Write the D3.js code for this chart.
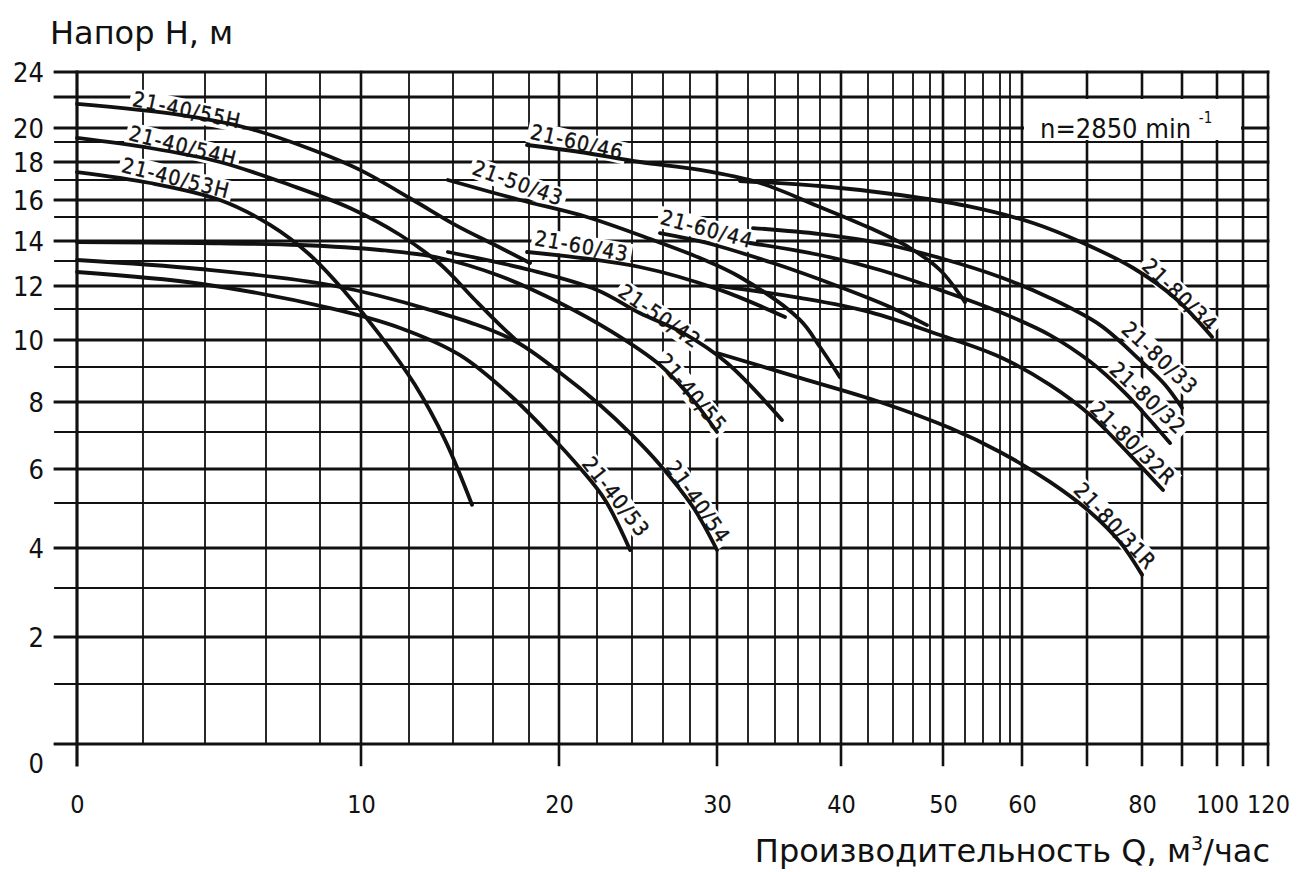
<!DOCTYPE html>
<html>
<head>
<meta charset="utf-8">
<script src="https://cdn.jsdelivr.net/npm/d3@7/dist/d3.min.js"></script>
<style>
  body { margin: 0; background: #fff; }
  svg { display: block; }
</style>
</head>
<body>
<svg id="chart" width="1299" height="872"></svg>
<script>
"use strict";

// flow Q (m3/h) and head H (m) grid values of the sheet
var qGrid = [0, 2, 4, 6, 8, 10, 12, 14, 16, 18, 20, 22, 24, 26, 28, 30, 32, 34, 36, 38,
    40, 42, 44, 46, 48, 50, 52, 54, 56, 58, 60, 70, 80, 90, 100, 110, 120];
var hGrid = [0, 1, 2, 3, 4, 5, 6, 7, 8, 9, 10, 11, 12, 13, 14, 15, 16, 17, 18, 19, 20, 22, 24];
var qTicks = [0, 10, 20, 30, 40, 50, 60, 80, 100, 120];
var hTicks = [0, 2, 4, 6, 8, 10, 12, 14, 16, 18, 20, 24];

// the printed scale is hand drawn and uneven, so it is a piecewise scale
var qGridPx = [77, 143, 205, 266, 320, 361, 409, 453, 493, 529, 559, 597, 632, 663, 690, 717,
    748, 775, 798, 820, 841, 868, 893, 913, 930, 943, 965, 983, 1000, 1010, 1022,
    1087, 1142, 1182, 1217, 1243, 1268];
var hGridPx = [744, 684, 637, 588, 548, 503, 469, 432, 402, 367, 340, 309, 286, 261, 241,
    217, 200, 180, 162, 142, 128, 97, 72];

// pump curves, [Q, H]
var p4055H = [[0, 21.55], [3.19, 20.84], [5.38, 20.0], [7.74, 18.6], [9.95, 17.56],
    [12.18, 16.0], [14.2, 14.63], [16.11, 13.8], [18.07, 12.92]];
var p4054H = [[0, 19.29], [2.23, 18.7], [4.49, 18.0], [6.89, 16.75], [9.46, 15.53],
    [11.63, 14.25], [13.41, 12.88], [15.1, 11.39], [16.39, 10.48], [17.39, 9.93]];
var p4053H = [[0, 17.44], [2.23, 16.85], [4.49, 16.0], [6.15, 14.67], [7.63, 13.3],
    [9.22, 11.74], [10.79, 10.16], [12.27, 8.49], [13.64, 6.78], [14.95, 4.96]];
var p4055 = [[0, 13.95], [3.84, 13.9], [7.26, 13.8], [10.79, 13.55], [13.41, 13.15],
    [16.39, 12.4], [20.05, 11.26], [22.86, 10.26], [25.81, 9.07], [28.22, 8.06], [30.0, 7.0]];
var p4054 = [[0, 13.05], [3.84, 12.68], [8.49, 12.04], [12.95, 10.97], [17.11, 10.0],
    [20.21, 8.77], [22.17, 7.9], [23.89, 6.97], [25.81, 6.11], [28.22, 4.91], [30.0, 3.95]];
var p4053 = [[0, 12.56], [3.84, 12.09], [8.49, 11.04], [11.63, 10.39], [14.35, 9.44],
    [16.94, 8.2], [19.4, 6.92], [21.1, 6.03], [22.46, 5.09], [23.89, 3.95]];
var p5043 = [[13.77, 17.0], [17.5, 16.0], [21.47, 15.0], [25.35, 14.04], [28.74, 13.15],
    [31.48, 12.36], [36.18, 10.65], [38.0, 9.74], [39.9, 8.71]];
var p5042 = [[13.77, 13.45], [18.07, 12.64], [22.0, 11.83], [24.5, 10.87], [27.48, 10.23],
    [30.65, 9.15], [34.6, 7.4]];
var p6046 = [[17.89, 18.85], [21.1, 18.5], [24.52, 18.0], [28.74, 17.56], [32.89, 16.85],
    [38.0, 15.59], [42.16, 14.54], [45.7, 13.65], [49.54, 12.64], [52.0, 11.3]];
var p6044 = [[25.8, 14.33], [29.26, 13.9], [33.85, 12.92], [39.9, 11.96], [43.76, 11.09],
    [47.65, 10.48]];
var p6043 = [[17.89, 13.45], [24.5, 12.76], [30.19, 11.83], [34.87, 10.74]];
var p8034 = [[31.48, 16.95], [38.0, 16.7], [44.7, 16.25], [52.2, 15.65], [61.7, 14.75],
    [69.4, 13.9], [78.4, 12.72], [88.25, 11.48], [98.6, 10.1]];
var p8033 = [[32.37, 14.54], [38.0, 14.29], [42.96, 13.9], [49.54, 13.15], [56.0, 12.36],
    [64.3, 11.48], [72.4, 10.48], [79.6, 9.26], [85.75, 8.49], [90.0, 7.8]];
var p8032 = [[32.15, 13.9], [38.0, 13.3], [42.96, 12.64], [49.54, 11.83], [56.0, 10.9],
    [64.3, 10.16], [70.55, 9.2], [76.9, 8.26], [82.0, 7.4], [87.0, 6.7]];
var p8032R = [[30.19, 12.0], [36.18, 11.48], [42.16, 10.9], [49.54, 10.16], [56.0, 9.37],
    [64.3, 8.49], [70.55, 7.57], [77.8, 6.38], [85.25, 5.38]];
var p8031R = [[30.0, 9.52], [36.18, 8.69], [42.96, 8.0], [50.64, 7.13], [56.0, 6.46],
    [64.3, 5.62], [70.55, 4.8], [76.0, 4.13], [80.0, 3.33]];

var pumps = [
    { name: "21-40/55H", pts: p4055H }, { name: "21-40/54H", pts: p4054H },
    { name: "21-40/53H", pts: p4053H }, { name: "21-40/55", pts: p4055 },
    { name: "21-40/54", pts: p4054 }, { name: "21-40/53", pts: p4053 },
    { name: "21-50/43", pts: p5043 }, { name: "21-50/42", pts: p5042 },
    { name: "21-60/46", pts: p6046 }, { name: "21-60/44", pts: p6044 },
    { name: "21-60/43", pts: p6043 }, { name: "21-80/34", pts: p8034 },
    { name: "21-80/33", pts: p8033 }, { name: "21-80/32", pts: p8032 },
    { name: "21-80/32R", pts: p8032R }, { name: "21-80/31R", pts: p8031R }
];

// where each curve name is written: centre in [Q, H] and slope of the text
var tags = {
    "21-40/55H": [3.42, 21.16, 12], "21-40/54H": [3.29, 18.8, 14], "21-40/53H": [3.06, 17.11, 14],
    "21-60/46": [20.95, 19.0, 13], "21-50/43": [17.39, 16.85, 20], "21-60/44": [29.26, 14.5, 15],
    "21-60/43": [21.2, 13.75, 10], "21-50/42": [25.8, 10.77, 35], "21-40/55": [28.15, 8.26, 50],
    "21-40/54": [28.6, 5.03, 55], "21-40/53": [23.09, 5.18, 52], "21-80/34": [89.5, 11.6, 44],
    "21-80/33": [84.5, 9.33, 43], "21-80/32": [81.5, 8.11, 43], "21-80/32R": [78.4, 6.7, 44],
    "21-80/31R": [75.1, 4.49, 47]
};

var ink = "#111",
    techFont = "'DejaVu Sans Condensed', 'DejaVu Sans', sans-serif",
    plainFont = "'DejaVu Sans', Verdana, sans-serif";

var svg = d3.select("#chart"),
    x = d3.scaleLinear().domain(qGrid).range(qGridPx),
    y = d3.scaleLinear().domain(hGrid).range(hGridPx),
    left = 55,
    qMax = 120,
    hMax = 24;

svg.append("rect").attr("width", 1299).attr("height", 872).attr("fill", "#fff");

// grid
var grid = svg.append("g").attr("stroke", ink).attr("stroke-linecap", "square");

grid.selectAll("line.h")
    .data(hGrid)
    .join("line")
    .attr("x1", left)
    .attr("x2", x(qMax))
    .attr("y1", function (d) { return y(d); })
    .attr("y2", function (d) { return y(d); })
    .attr("stroke-width", function (d) { return d % 2 === 0 ? 2.8 : 1.8; });

grid.selectAll("line.v")
    .data(qGrid)
    .join("line")
    .attr("x1", function (d) { return x(d); })
    .attr("x2", function (d) { return x(d); })
    .attr("y1", y(hMax))
    .attr("y2", function (d) { return d % 10 === 0 ? y(0) + 21 : y(0); })
    .attr("stroke-width", function (d) {
        if (d === 0) { return 3.2; }
        return d % 10 === 0 ? 2.6 : 1.8;
    });

// speed box
svg.append("rect")
    .attr("x", x(60) + 2)
    .attr("y", y(22) + 2)
    .attr("width", x(110) - x(60) - 4)
    .attr("height", y(19) - y(22) - 4)
    .attr("fill", "#fff");

var speed = svg.append("text")
    .attr("x", 1040)
    .attr("y", 138)
    .attr("font-family", techFont)
    .attr("font-size", 27)
    .attr("fill", ink)
    .text("n=2850 min ");
speed.append("tspan")
    .attr("dy", -15)
    .attr("font-size", 15)
    .text("-1");

// curve names, background first so that they cut the grid
var tagLayer = svg.append("g");
var lineLayer = svg.append("g");

var line = d3.line()
    .x(function (d) { return x(d[0]); })
    .y(function (d) { return y(d[1]); })
    .curve(d3.curveCatmullRom.alpha(0.5));

lineLayer.selectAll("path")
    .data(pumps)
    .join("path")
    .attr("d", function (d) { return line(d.pts); })
    .attr("fill", "none")
    .attr("stroke", ink)
    .attr("stroke-width", 3.8)
    .attr("stroke-linecap", "round");

pumps.forEach(function (p) {
    var t = tags[p.name],
        at = "translate(" + x(t[0]) + "," + y(t[1]) + ") rotate(" + t[2] + ")",
        bg = tagLayer.append("g").attr("transform", at).append("rect").attr("fill", "#fff"),
        txt = svg.append("g")
            .attr("transform", at)
            .append("text")
            .attr("text-anchor", "middle")
            .attr("dy", "0.35em")
            .attr("font-family", techFont)
            .attr("font-size", 21)
            .attr("letter-spacing", 1.2)
            .attr("fill", ink)
            .attr("stroke", ink)
            .attr("stroke-width", 0.4)
            .text(p.name),
        box = txt.node().getBBox();
    bg.attr("x", box.x - 3).attr("y", box.y + 1)
        .attr("width", box.width + 6).attr("height", box.height - 2);
});

// tick labels
var xAxis = svg.append("g")
    .attr("transform", "translate(0," + 813 + ")")
    .call(d3.axisBottom(x).tickValues(qTicks).tickSize(0).tickFormat(d3.format("d")));
xAxis.select(".domain").remove();
xAxis.selectAll("text")
    .attr("y", 0)
    .attr("dy", 0)
    .attr("font-family", techFont)
    .attr("font-size", 25)
    .attr("fill", ink);

var yAxis = svg.append("g")
    .attr("transform", "translate(44,0)")
    .call(d3.axisLeft(y).tickValues(hTicks).tickSize(0).tickFormat(d3.format("d")));
yAxis.select(".domain").remove();
yAxis.selectAll("text")
    .attr("x", 0)
    .attr("dy", function (d) { return d === 0 ? "1.05em" : "0.36em"; })
    .attr("font-family", techFont)
    .attr("font-size", 27)
    .attr("fill", ink);

// titles
svg.append("text")
    .attr("x", 50)
    .attr("y", 44)
    .attr("font-family", plainFont)
    .attr("font-size", 32)
    .attr("fill", ink)
    .text("Напор Н, м");

var xTitle = svg.append("text")
    .attr("x", 1270)
    .attr("y", 862)
    .attr("text-anchor", "end")
    .attr("font-family", plainFont)
    .attr("font-size", 32)
    .attr("fill", ink)
    .text("Производительность Q, м");
xTitle.append("tspan").attr("dy", -12).attr("font-size", 19).text("3");
xTitle.append("tspan").attr("dy", 12).text("/час");
</script>
</body>
</html>
